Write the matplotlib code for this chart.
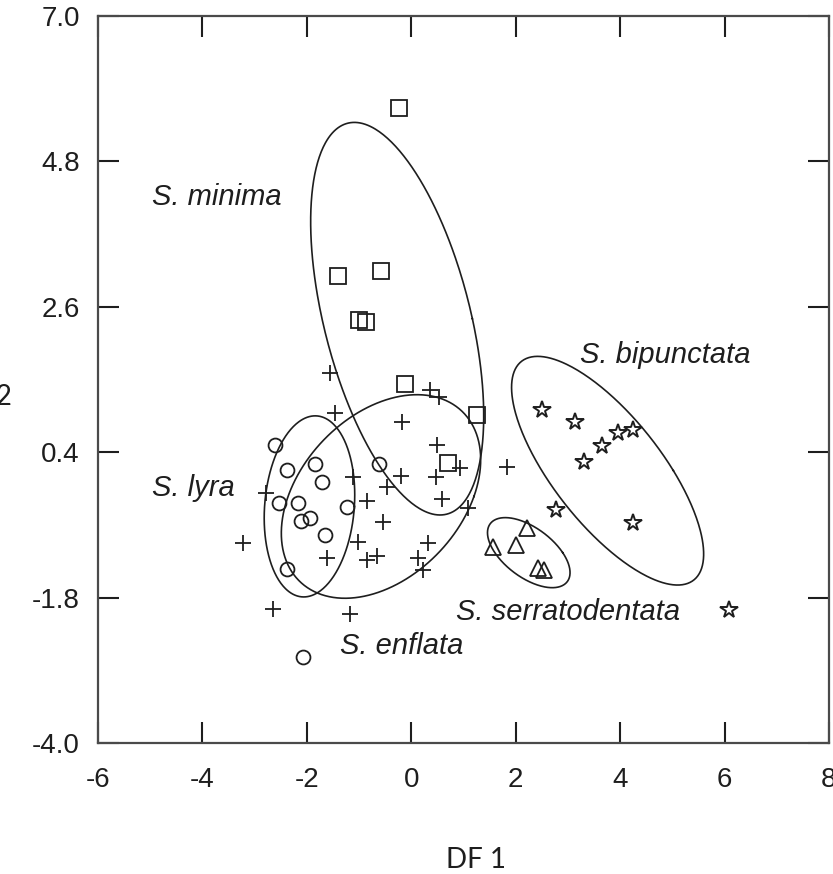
import numpy as np
import matplotlib.pyplot as plt

# discriminant scores
minima_x = [-0.23, -1.40, -0.58, -1.00, -0.87, -0.12, 1.26, 0.70]
minima_y = [5.61, 3.07, 3.14, 2.40, 2.37, 1.43, 0.96, 0.24]

lyra_x = [-2.61, -2.38, -1.84, -1.71, -2.53, -2.17, -2.11, -1.94, -1.65, -1.23, -0.62, -2.38, -2.07]
lyra_y = [0.51, 0.13, 0.22, -0.05, -0.37, -0.37, -0.64, -0.59, -0.85, -0.43, 0.22, -1.37, -2.70]

enflata_x = [-1.56, -1.46, -0.18, 0.36, 0.53, 0.49, 0.93, 0.48, 0.59, -0.20, -0.46, -1.11, -0.85,
             -2.78, -3.22, -0.54, -1.02, -0.66, -0.85, -1.61, 0.32, 0.13, 0.23, 1.09, 1.84, -2.65, -1.17]
enflata_y = [1.60, 0.99, 0.86, 1.34, 1.24, 0.51, 0.16, 0.03, -0.31, 0.04, -0.13, 0.03, -0.34,
             -0.22, -0.97, -0.66, -0.96, -1.17, -1.23, -1.20, -0.97, -1.20, -1.38, -0.44, 0.18, -1.97, -2.05]

bipunctata_x = [2.51, 3.14, 3.66, 3.96, 4.25, 3.31, 2.77, 4.25, 6.08]
bipunctata_y = [1.04, 0.86, 0.49, 0.69, 0.74, 0.25, -0.47, -0.67, -1.99]

serrato_x = [1.57, 2.01, 2.22, 2.54, 2.43]
serrato_y = [-1.03, -1.00, -0.75, -1.38, -1.35]

# ellipses: centre, half width, half height, shear (x offset at the top)
ell_names = ["minima", "lyra", "enflata", "bipunctata", "serratodentata"]
ell_cx = [-0.27, -1.95, -0.58, 3.76, 2.25]
ell_cy = [2.42, -0.42, -0.27, 0.12, -1.12]
ell_w = [1.44, 0.86, 1.78, 1.26, 0.65]
ell_h = [2.97, 1.37, 1.54, 1.73, 0.53]
ell_k = [-0.82, 0.11, 0.69, -1.34, -0.45]

label_text = ["S. minima", "S. bipunctata", "S. lyra", "S. serratodentata", "S. enflata"]
label_x = [-4.97, 3.23, -4.97, 0.86, -1.36]
label_y = [4.26, 1.87, -0.14, -2.02, -2.53]

x_ticks = [-6, -4, -2, 0, 2, 4, 6, 8]
y_ticks = [-4.0, -1.8, 0.4, 2.6, 4.8, 7.0]
y_tick_labels = ["-4.0", "-1.8", "0.4", "2.6", "4.8", "7.0"]

ink = "#1e1e1e"

fig = plt.figure(figsize=(8.33, 8.74), dpi=100)
ax = fig.add_axes([98 / 833, 1 - 743 / 874, 731 / 833, 727 / 874])

ax.plot(minima_x, minima_y, 's', ms=12, mfc='none', mec=ink, mew=1.3)
ax.plot(lyra_x, lyra_y, 'o', ms=10, mfc='none', mec=ink, mew=1.3)
ax.plot(enflata_x, enflata_y, '+', ms=12, mec=ink, mew=1.3)
ax.plot(bipunctata_x, bipunctata_y, '*', ms=13, mfc='none', mec=ink, mew=1.4)
ax.plot(serrato_x, serrato_y, '^', ms=11, mfc='none', mec=ink, mew=1.3)

t = np.linspace(0, 2 * np.pi, 400)
for cx, cy, w, h, k in zip(ell_cx, ell_cy, ell_w, ell_h, ell_k):
    ax.plot(cx + w * np.cos(t) + k * np.sin(t), cy + h * np.sin(t), color=ink, lw=1.2)

for txt, lx, ly in zip(label_text, label_x, label_y):
    ax.text(lx, ly, txt, ha='left', va='center', fontsize=21, style='italic',
            family='Liberation Sans', color=ink)

ax.set_xlim(-6, 8)
ax.set_ylim(-4, 7)
ax.set_xticks(x_ticks)
ax.set_xticklabels([str(v) for v in x_ticks])
ax.set_yticks(y_ticks)
ax.set_yticklabels(y_tick_labels)

ax.tick_params(direction='in', length=15, width=1.5, top=True, right=True,
               labelsize=20, colors=ink)
ax.tick_params(axis='x', pad=17)
ax.tick_params(axis='y', pad=13)
for lab in ax.get_xticklabels() + ax.get_yticklabels():
    lab.set_family('Liberation Sans')
for sp in ax.spines.values():
    sp.set_linewidth(1.6)
    sp.set_color('#4a4a4a')

fig.text(476 / 833, 1 - 860 / 874, 'DF 1', ha='center', va='center', fontsize=20,
         family='Lato', color=ink)
fig.text(12 / 833, 1 - 397 / 874, 'DF 2', ha='right', va='center', fontsize=20,
         family='Lato', color=ink)

fig.savefig('out.png', dpi=100, facecolor='white')
